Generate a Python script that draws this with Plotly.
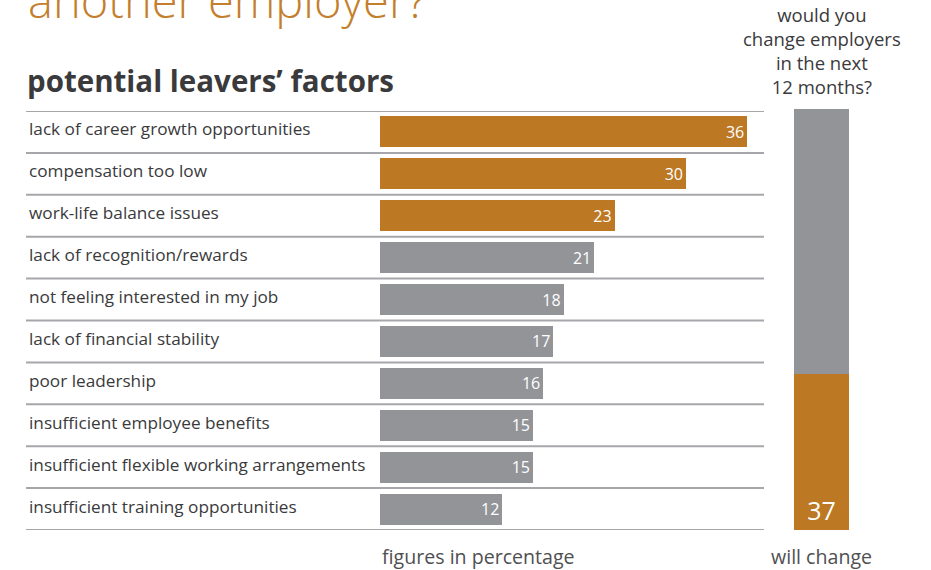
import plotly.graph_objects as go

# survey data (percent of potential leavers)
factors = [
    "lack of career growth opportunities",
    "compensation too low",
    "work-life balance issues",
    "lack of recognition/rewards",
    "not feeling interested in my job",
    "lack of financial stability",
    "poor leadership",
    "insufficient employee benefits",
    "insufficient flexible working arrangements",
    "insufficient training opportunities",
]
factor_values = [36, 30, 23, 21, 18, 17, 16, 15, 15, 12]
highlight_top = 3

will_change = 37
wont_change = 100 - will_change

question_lines = ["would you", "change employers", "in the next", "12 months?"]

ORANGE = "#BC7823"
TITLE_ORANGE = "#C47F2E"
GRAY = "#939498"
LINE = "#A7A7AB"
TEXT = "#3A3A3C"
FONT = "Open Sans"

W, H = 931, 570


def px_x(p):
    return p / W


def px_y(p):
    return 1 - p / H


bar_colors = [ORANGE if i < highlight_top else GRAY for i in range(len(factors))]
n = len(factors)

fig = go.Figure()

fig.add_trace(go.Bar(
    x=factor_values,
    y=list(range(n)),
    orientation="h",
    marker=dict(color=bar_colors, line=dict(width=0)),
    width=0.74,
    text=[str(v) for v in factor_values],
    textposition="inside",
    insidetextanchor="end",
    textfont=dict(color="white", size=16, family=FONT),
    textangle=0,
    cliponaxis=False,
    hoverinfo="skip",
    xaxis="x", yaxis="y",
))

# right column: share of respondents who would change employers
fig.add_trace(go.Bar(
    x=[0], y=[will_change], marker=dict(color=ORANGE, line=dict(width=0)),
    width=1, text=[str(will_change)], textposition="inside",
    insidetextanchor="start", textangle=0,
    textfont=dict(color="white", size=25, family=FONT),
    hoverinfo="skip", xaxis="x2", yaxis="y2",
))
fig.add_trace(go.Bar(
    x=[0], y=[wont_change], marker=dict(color=GRAY, line=dict(width=0)),
    width=1, hoverinfo="skip", xaxis="x2", yaxis="y2",
))

# row separators
shapes = []
for k in range(n + 1):
    shapes.append(dict(
        type="line", xref="paper", yref="y",
        x0=px_x(26), x1=px_x(764), y0=k - 0.5, y1=k - 0.5,
        line=dict(color=LINE, width=2),
    ))

annotations = []
for i, f in enumerate(factors):
    annotations.append(dict(
        x=px_x(27), y=i, xref="paper", yref="y", text=f,
        showarrow=False, xanchor="left", yanchor="middle", yshift=3,
        font=dict(size=17.2, color=TEXT, family=FONT),
    ))

annotations += [
    dict(x=px_x(822), y=px_y(50), xref="paper", yref="paper",
         text="<br>".join(question_lines), showarrow=False,
         xanchor="center", yanchor="middle", align="center",
         font=dict(size=18.5, color=TEXT, family=FONT)),
    dict(x=px_x(26), y=px_y(34), xref="paper", yref="paper",
         text="another employer?", showarrow=False,
         xanchor="left", yanchor="bottom",
         font=dict(size=47, color=TITLE_ORANGE, family=FONT, weight=300)),
    dict(x=px_x(25), y=px_y(80), xref="paper", yref="paper",
         text="potential leavers\u2019 factors", showarrow=False,
         xanchor="left", yanchor="middle",
         font=dict(size=29.5, color=TEXT, family=FONT, weight="bold")),
    dict(x=px_x(478), y=px_y(556), xref="paper", yref="paper",
         text="figures in percentage", showarrow=False,
         xanchor="center", yanchor="middle",
         font=dict(size=19.6, color="#505052", family=FONT)),
    dict(x=px_x(821), y=px_y(556), xref="paper", yref="paper",
         text="will change", showarrow=False,
         xanchor="center", yanchor="middle",
         font=dict(size=19.6, color="#505052", family=FONT)),
]

fig.update_layout(
    width=W, height=H,
    margin=dict(l=0, r=0, t=0, b=0),
    paper_bgcolor="white", plot_bgcolor="white",
    barmode="stack",
    showlegend=False,
    shapes=shapes,
    annotations=annotations,
    xaxis=dict(domain=[px_x(380), px_x(764)], range=[0, (764 - 380) / 10.2],
               visible=False, fixedrange=True),
    yaxis=dict(domain=[px_y(530), px_y(111)], range=[n - 0.5, -0.5],
               visible=False, fixedrange=True),
    xaxis2=dict(domain=[px_x(794), px_x(849)], range=[-0.5, 0.5],
                visible=False, fixedrange=True, anchor="y2"),
    yaxis2=dict(domain=[px_y(530), px_y(109)], range=[0, 100],
                visible=False, fixedrange=True, anchor="x2"),
)

fig.write_html("out.html")
